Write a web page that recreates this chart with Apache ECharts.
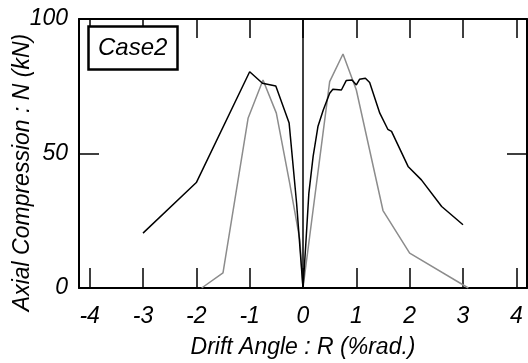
<!DOCTYPE html>
<html>
<head>
<meta charset="utf-8">
<script src="https://cdn.jsdelivr.net/npm/echarts@6/dist/echarts.min.js"></script>
<style>
  html, body { margin: 0; padding: 0; background: #fff; }
  #chart { width: 528px; height: 363px; }
</style>
</head>
<body>
<div id="chart"></div>
<script>
// tick values
const xTicks = [-4, -3, -2, -1, 0, 1, 2, 3, 4];
const yTicks = [0, 50, 100];

// black curve (Case2 measured)
const blackR = [-3.0, -2.0, -1.0, -0.76, -0.51, -0.26, -0.12, 0, 0.05, 0.11, 0.19, 0.28, 0.38, 0.5, 0.56, 0.72, 0.81, 0.92, 1.0, 1.06, 1.17, 1.25, 1.44, 1.59, 1.66, 1.97, 2.22, 2.6, 3.0];
const blackN = [20.4, 39.2, 80.4, 76.1, 75.1, 61.3, 31.5, 0, 15.5, 35.3, 48.9, 60, 66.2, 72.4, 73.9, 73.6, 77.1, 77.3, 75.5, 77.6, 78, 76.4, 65, 59, 58.2, 45.2, 40.2, 30.3, 23.5];

// gray curve
const grayR = [-1.9, -1.5, -1.03, -0.75, -0.5, -0.25, -0.06, 0, 0.5, 0.75, 1.0, 1.5, 2.0, 3.1];
const grayN = [0, 5.6, 63.1, 77.3, 65, 39, 18, 0, 76.7, 87, 73.6, 28.8, 13, 0];

const font = '"Liberation Sans", Arial, sans-serif';
const zip = (xs, ys) => xs.map((x, i) => [x, ys[i]]);

const myChart = echarts.init(document.getElementById('chart'));

const option = {
    animation: false,
    title: {
        text: 'Case2',
        left: 88,
        top: 26,
        padding: [10, 10, 10, 10],
        borderColor: '#000',
        borderWidth: 2.5,
        backgroundColor: '#fff',
        textStyle: { fontFamily: font, fontStyle: 'italic', fontWeight: 'normal', fontSize: 24, color: '#000' }
    },
    grid: { left: 79, right: 1, top: 19, bottom: 75, outerBoundsMode: 'none' },
    xAxis: [{
        type: 'value',
        min: -4.2,
        max: 4.2,
        name: 'Drift Angle : R (%rad.)',
        nameLocation: 'middle',
        nameGap: 48,
        nameTextStyle: { fontFamily: font, fontStyle: 'italic', fontSize: 23, color: '#000' },
        axisLine: { onZero: false, lineStyle: { color: '#000', width: 2 } },
        axisTick: { inside: true, length: 20, customValues: xTicks, lineStyle: { color: '#000', width: 1.5 } },
        axisLabel: { customValues: xTicks, margin: 17, fontFamily: font, fontStyle: 'italic', fontSize: 23, color: '#000' },
        splitLine: { show: false }
    }, {
        type: 'value',
        position: 'top',
        min: -4.2,
        max: 4.2,
        axisLine: { onZero: false, lineStyle: { color: '#000', width: 2 } },
        axisTick: { inside: true, length: 19, customValues: xTicks, lineStyle: { color: '#000', width: 1.5 } },
        axisLabel: { show: false },
        splitLine: { show: false }
    }],
    yAxis: [{
        type: 'value',
        min: 0,
        max: 100,
        name: 'Axial Compression : N (kN)',
        nameLocation: 'middle',
        nameGap: 45,
        nameMoveOverlap: false,
        nameTextStyle: { fontFamily: font, fontStyle: 'italic', fontSize: 23, color: '#000', padding: [0, 38, 0, 0] },
        axisLine: { onZero: false, lineStyle: { color: '#000', width: 2 } },
        axisTick: { inside: true, length: 20, customValues: yTicks, lineStyle: { color: '#000', width: 1.5 } },
        axisLabel: { customValues: yTicks, margin: 11, fontFamily: font, fontStyle: 'italic', fontSize: 23, color: '#000' },
        splitLine: { show: false }
    }, {
        type: 'value',
        position: 'right',
        min: 0,
        max: 100,
        axisLine: { show: true, onZero: false, lineStyle: { color: '#000', width: 2 } },
        axisTick: { inside: true, length: 20, customValues: [50], lineStyle: { color: '#000', width: 1.5 } },
        axisLabel: { show: false },
        splitLine: { show: false }
    }],
    series: [{
        type: 'line',
        name: 'gray',
        data: zip(grayR, grayN),
        showSymbol: false,
        lineStyle: { color: '#8c8c8c', width: 1.5 },
        markLine: {
            silent: true,
            symbol: ['none', 'none'],
            label: { show: false },
            lineStyle: { color: '#000', type: 'solid', width: 1.5 },
            data: [{ xAxis: 0 }]
        }
    }, {
        type: 'line',
        name: 'black',
        data: zip(blackR, blackN),
        showSymbol: false,
        lineStyle: { color: '#000', width: 1.5 }
    }]
};
myChart.setOption(option);

window.addEventListener('resize', () => myChart.resize());
</script>
</body>
</html>
